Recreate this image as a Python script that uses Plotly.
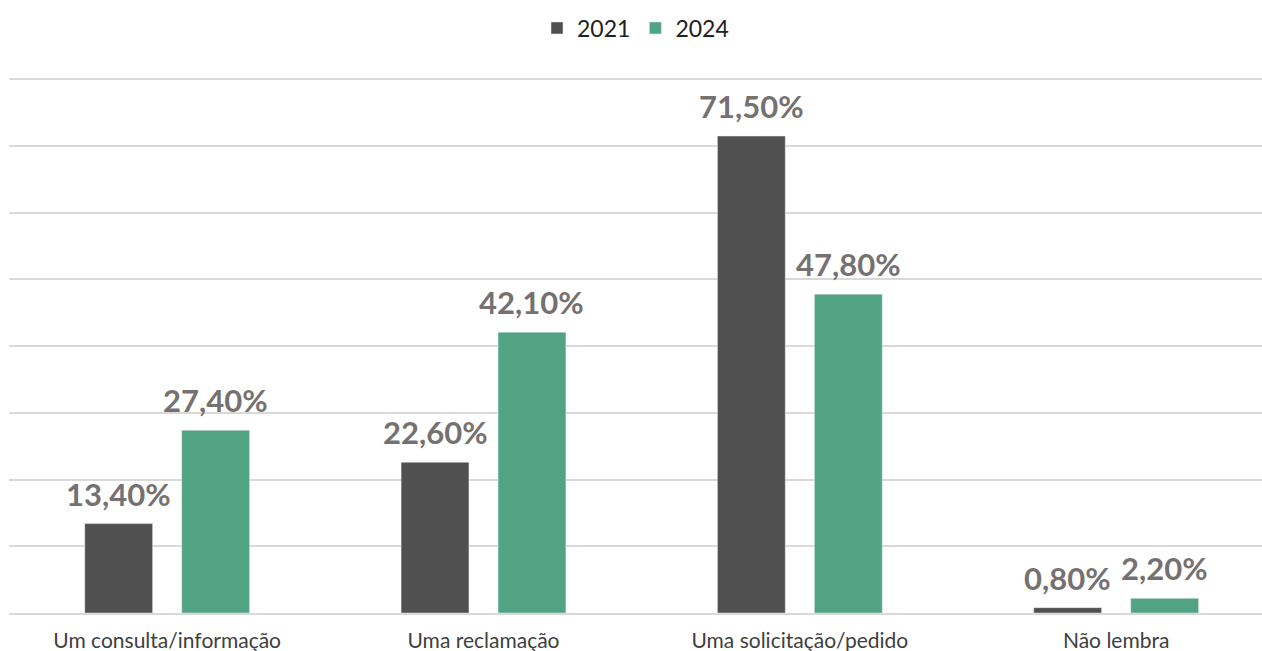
import plotly.graph_objects as go

categories = ["Um consulta/informação", "Uma reclamação", "Uma solicitação/pedido", "Não lembra"]
values_2021 = [13.4, 22.6, 71.5, 0.8]
values_2024 = [27.4, 42.1, 47.8, 2.2]
y_ticks = [0, 10, 20, 30, 40, 50, 60, 70, 80]


def pct(v):
    return f"{v:.2f}%".replace(".", ",")


label_font = dict(family="Lato", size=31, color="#767171", weight="bold")

fig = go.Figure()
fig.add_trace(go.Bar(name="2021", x=categories, y=values_2021, marker_color="#505050",
                     offsetgroup="a"))
fig.add_trace(go.Bar(name="2024", x=categories, y=values_2024, marker_color="#52a383",
                     offsetgroup="b"))

# value labels above each bar, positioned from the same values as the bars
slot = (1 - 0.387) / 2
for series, sign in ((values_2021, -1), (values_2024, 1)):
    for i, v in enumerate(series):
        fig.add_annotation(
            x=i + sign * slot / 2, y=v, xref="x", yref="y",
            text=pct(v), showarrow=False, yanchor="middle", yshift=30,
            font=label_font,
        )

fig.update_layout(
    width=1262, height=651,
    margin=dict(l=9, r=0, t=76, b=38),
    paper_bgcolor="white", plot_bgcolor="white",
    barmode="group", bargap=0.387, bargroupgap=0.3,
    font=dict(family="Lato", color="#404040"),
    showlegend=True,
    legend=dict(
        orientation="h", x=0.5, xanchor="center", y=0.99, yanchor="top",
        yref="container", font=dict(size=23, color="#202020"),
        itemclick=False,
    ),
    xaxis=dict(
        range=[-0.5, 3.461],
        tickfont=dict(size=21, color="#404040"),
        ticklabelstandoff=8,
        showline=True, linecolor="#d9d9d9", linewidth=2,
        ticks="", showgrid=False,
    ),
    yaxis=dict(
        range=[0, 80.5], tickvals=y_ticks, showticklabels=False,
        showgrid=True, gridcolor="#d9d9d9", gridwidth=2,
        zeroline=False, fixedrange=True,
    ),
)

fig.write_html("out.html")
